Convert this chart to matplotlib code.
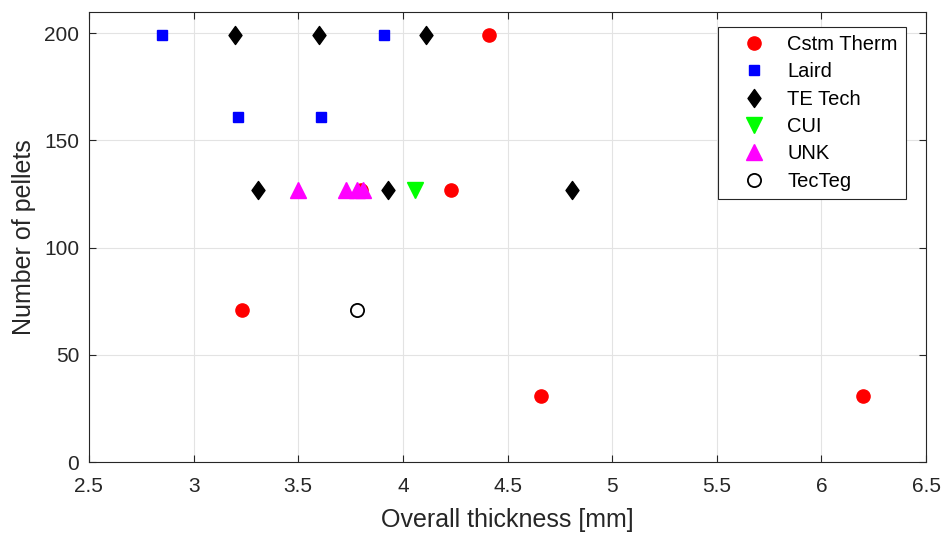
import matplotlib.pyplot as plt
from matplotlib.path import Path

plt.rcParams['font.family'] = ['Liberation Sans', 'DejaVu Sans']

# thickness [mm] and pellet count per manufacturer
cstm_x = [4.41, 3.23, 4.66, 6.20, 4.23, 3.80]
cstm_y = [199, 71, 31, 31, 127, 127]

laird_x = [2.85, 3.91, 3.21, 3.61]
laird_y = [199, 199, 161, 161]

tetech_x = [3.20, 3.60, 4.11, 3.31, 3.93, 4.81]
tetech_y = [199, 199, 199, 127, 127, 127]

cui_x = [4.06]
cui_y = [127]

unk_x = [3.50, 3.73, 3.78, 3.81]
unk_y = [127, 127, 127, 127]

tecteg_x = [3.78]
tecteg_y = [71]

# wider diamond than matplotlib's 'd'
diamond = Path([(0, 1), (0.72, 0), (0, -1), (-0.72, 0), (0, 1)],
               [Path.MOVETO, Path.LINETO, Path.LINETO, Path.LINETO, Path.CLOSEPOLY])

fig = plt.figure(figsize=(9.46, 5.33), dpi=100)
ax = fig.add_axes([0.094, 0.133, 0.885, 0.845])

ax.plot(cstm_x, cstm_y, 'o', color='red', markersize=9.5, label='Cstm Therm', zorder=3)
ax.plot(laird_x, laird_y, 's', color='blue', markersize=7.2, label='Laird', zorder=3)
ax.plot(tetech_x, tetech_y, marker=diamond, linestyle='none', color='black',
        markersize=13, label='TE Tech', zorder=3)
ax.plot(cui_x, cui_y, 'v', color='#00ff00', markersize=11, label='CUI', zorder=3)
ax.plot(unk_x, unk_y, '^', color='magenta', markersize=11, label='UNK', zorder=3)
ax.plot(tecteg_x, tecteg_y, 'o', markerfacecolor='none', markeredgecolor='black',
        markersize=9.5, markeredgewidth=1.3, label='TecTeg', zorder=3)

ax.set_xlim(2.5, 6.5)
ax.set_ylim(0, 210)
ax.set_xticks([2.5, 3, 3.5, 4, 4.5, 5, 5.5, 6, 6.5])
ax.set_xticklabels(['2.5', '3', '3.5', '4', '4.5', '5', '5.5', '6', '6.5'])
ax.set_yticks([0, 50, 100, 150, 200])

ax.grid(True, color='#e3e3e3', linewidth=0.8)
ax.set_axisbelow(True)
ax.tick_params(direction='in', top=True, right=True, length=5,
               labelsize=15, colors='#262626')
ax.tick_params(axis='x', pad=11)
ax.tick_params(axis='y', pad=7)
for s in ax.spines.values():
    s.set_color('#262626')

ax.set_xlabel('Overall thickness [mm]', fontsize=18, color='#262626')
ax.set_ylabel('Number of pellets', fontsize=18, color='#262626')
ax.xaxis.set_label_coords(0.5, -0.129)
ax.xaxis.label.set_va('center')
ax.yaxis.set_label_coords(-0.077, 0.5)
ax.yaxis.label.set_va('center')

leg = ax.legend(loc='upper right', bbox_to_anchor=(0.976, 0.967), borderaxespad=0,
                fontsize=14.5, fancybox=False, edgecolor='#262626', framealpha=1,
                labelspacing=0.42, handlelength=2.8, handletextpad=0.25, borderpad=0.4)
leg.get_frame().set_linewidth(0.8)

plt.savefig('out.png', dpi=100)
